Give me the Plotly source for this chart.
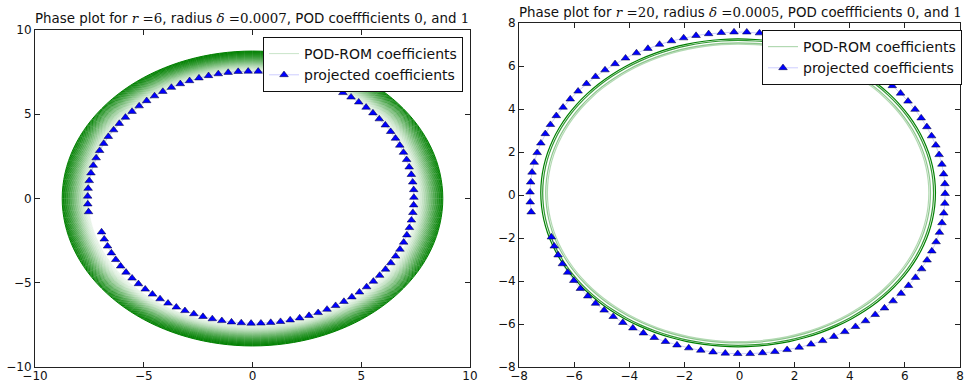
import numpy as np
import plotly.graph_objects as go

# ---------------- data ----------------
# projected coefficients: polar angle (deg) of each marker, shared by both panels
marker_angles_deg = [
    196, 199.5, 203, 206.5, 210, 213.5, 217, 220.5, 224, 227.5,
    231, 234.5, 238, 241.5, 245, 248.5, 252, 255.5, 259, 262.5,
    266, 269.5, 273, 276.5, 280, 283.5, 287, 290.5, 294, 297.5,
    301, 304.5, 308, 311.5, 315, 318.5, 322, 325.5, 329, 332.5,
    336, 339.5, 343, 346.5, 350, 353.5, 357, 360.5, 364, 367.5,
    371, 374.5, 378, 381.5, 385, 388.5, 392, 395.5, 399, 402.5,
    406, 409.5, 413, 416.5, 420, 423.5, 427, 430.5, 434, 437.5,
    441, 444.5, 448, 451.5, 455, 458.5, 462, 465.5, 469, 472.5,
    476, 479.5, 483, 486.5, 490, 493.5, 497, 500.5, 504, 507.5,
    511, 514.5, 518, 521.5, 525, 528.5, 532, 535.5, 539, 542.5,
    546,
]
left_marker_radius = [
    7.22, 7.23, 7.24, 7.25, 7.26, 7.27, 7.28, 7.28, 7.29, 7.30,
    7.31, 7.32, 7.33, 7.34, 7.35, 7.36, 7.37, 7.38, 7.39, 7.40,
    7.40, 7.41, 7.41, 7.41, 7.42, 7.42, 7.42, 7.42, 7.42, 7.42,
    7.42, 7.42, 7.42, 7.42, 7.42, 7.42, 7.42, 7.42, 7.42, 7.42,
    7.42, 7.42, 7.42, 7.42, 7.42, 7.42, 7.42, 7.42, 7.43, 7.43,
    7.44, 7.44, 7.45, 7.46, 7.47, 7.48, 7.49, 7.50, 7.50, 7.51,
    7.52, 7.52, 7.53, 7.53, 7.54, 7.54, 7.54, 7.55, 7.55, 7.55,
    7.55, 7.55, 7.55, 7.55, 7.56, 7.56, 7.56, 7.56, 7.56, 7.56,
    7.57, 7.57, 7.57, 7.57, 7.57, 7.57, 7.57, 7.57, 7.57, 7.57,
    7.58, 7.58, 7.58, 7.58, 7.58, 7.58, 7.58, 7.58, 7.58, 7.58,
    7.58,
]
right_marker_radius = [
    7.10, 7.13, 7.15, 7.18, 7.20, 7.21, 7.23, 7.24, 7.26, 7.27,
    7.28, 7.29, 7.30, 7.31, 7.32, 7.33, 7.34, 7.35, 7.36, 7.37,
    7.38, 7.38, 7.39, 7.39, 7.40, 7.40, 7.41, 7.41, 7.42, 7.42,
    7.42, 7.43, 7.43, 7.43, 7.44, 7.44, 7.44, 7.44, 7.45, 7.45,
    7.45, 7.45, 7.46, 7.46, 7.46, 7.46, 7.46, 7.46, 7.47, 7.47,
    7.48, 7.48, 7.49, 7.49, 7.50, 7.50, 7.51, 7.51, 7.52, 7.52,
    7.53, 7.53, 7.54, 7.54, 7.55, 7.55, 7.56, 7.56, 7.56, 7.57,
    7.57, 7.57, 7.58, 7.58, 7.58, 7.58, 7.58, 7.58, 7.58, 7.58,
    7.58, 7.59, 7.59, 7.59, 7.59, 7.59, 7.59, 7.59, 7.59, 7.59,
    7.60, 7.60, 7.60, 7.60, 7.60, 7.60, 7.60, 7.60, 7.60, 7.60,
    7.60,
]

# POD-ROM coefficients: one closed loop per revolution
loop_angles_deg = [
    0, 5, 10, 15, 20, 25, 30, 35, 40, 45, 50, 55, 60, 65, 70, 75, 80, 85,
    90, 95, 100, 105, 110, 115, 120, 125, 130, 135, 140, 145, 150, 155, 160, 165, 170, 175,
    180, 185, 190, 195, 200, 205, 210, 215, 220, 225, 230, 235, 240, 245, 250, 255, 260, 265,
    270, 275, 280, 285, 290, 295, 300, 305, 310, 315, 320, 325, 330, 335, 340, 345, 350, 355,
    360,
]
left_loop_radius = [
    7.55, 7.58, 7.61, 7.64, 7.67, 7.70, 7.73, 7.76, 7.79, 7.82,
    7.85, 7.88, 7.91, 7.94, 7.97, 8.00, 8.03, 8.06, 8.09, 8.12,
    8.15, 8.18, 8.21, 8.24, 8.27, 8.30, 8.33, 8.36, 8.39, 8.42,
    8.45, 8.48, 8.51, 8.54, 8.57, 8.60, 8.63, 8.66, 8.69, 8.72,
    8.75,
]
right_loop_radius = [6.92, 6.98, 7.09, 7.16]
right_loop_alpha = [0.3, 0.45, 0.8, 1.0]
right_loop_center = (-0.05, 0.1)

SERIF = 'font-family:DejaVu Serif'
left_title = (f'Phase plot for <span style="{SERIF}"><i>r</i> =6</span>, '
              f'radius <span style="{SERIF}"><i>δ</i> =0.0007</span>, '
              f'POD coeffficients <span style="{SERIF}">0</span>, and '
              f'<span style="{SERIF}">1</span>')
right_title = (f'Phase plot for <span style="{SERIF}"><i>r</i> =20</span>, '
               f'radius <span style="{SERIF}"><i>δ</i> =0.0005</span>, '
               f'POD coeffficients <span style="{SERIF}">0</span>, and '
               f'<span style="{SERIF}">1</span>')

# ---------------- figure ----------------
W, H = 964, 383
fig = go.Figure()

ang_loop = np.radians(loop_angles_deg)
ang_mk = np.radians(marker_angles_deg)

GREEN = "0,128,0"

# left panel loops (lighter inside, darker outside)
n = len(left_loop_radius)
legend_shown = False
for i, r in enumerate(left_loop_radius):
    t = i / (n - 1)
    a = 0.06 + 0.94 * t ** 1.6
    show = (not legend_shown) and a >= 0.2
    legend_shown = legend_shown or show
    fig.add_trace(go.Scatter(
        x=r * np.cos(ang_loop), y=r * np.sin(ang_loop), mode="lines",
        line=dict(color=f"rgba({GREEN},{a:.3f})", width=1, shape="spline", smoothing=1),
        name="POD-ROM coefficients", showlegend=show, legend="legend",
        legendrank=1, xaxis="x", yaxis="y", hoverinfo="skip"))
fig.add_trace(go.Scatter(
    x=np.array(left_marker_radius) * np.cos(ang_mk),
    y=np.array(left_marker_radius) * np.sin(ang_mk),
    mode="lines+markers", name="projected coefficients", legend="legend",
    legendrank=2,
    line=dict(color="rgba(0,0,255,0.2)", width=1),
    marker=dict(symbol="triangle-up", size=7.5, color="#0000ff",
                line=dict(color="#000033", width=0.5)),
    xaxis="x", yaxis="y"))

# right panel loops
for i, (r, a) in enumerate(zip(right_loop_radius, right_loop_alpha)):
    fig.add_trace(go.Scatter(
        x=right_loop_center[0] + r * np.cos(ang_loop),
        y=right_loop_center[1] + r * np.sin(ang_loop), mode="lines",
        line=dict(color=f"rgba({GREEN},{a:.3f})", width=1.2, shape="spline", smoothing=1),
        name="POD-ROM coefficients", showlegend=(i == 0), legend="legend2",
        xaxis="x2", yaxis="y2", hoverinfo="skip"))
fig.add_trace(go.Scatter(
    x=np.array(right_marker_radius) * np.cos(ang_mk),
    y=np.array(right_marker_radius) * np.sin(ang_mk),
    mode="lines+markers", name="projected coefficients", legend="legend2",
    line=dict(color="rgba(0,0,255,0.2)", width=1),
    marker=dict(symbol="triangle-up", size=7.5, color="#0000ff",
                line=dict(color="#000033", width=0.5)),
    xaxis="x2", yaxis="y2"))

def px_x(p):
    return p / W

def px_y(p):
    return (H - p) / H

axis_common = dict(showgrid=False, zeroline=False, showline=True, linecolor="#222",
                   linewidth=1, mirror="ticks", ticks="inside", ticklen=5,
                   tickcolor="#222", automargin=False,
                   tickfont=dict(family="DejaVu Sans", size=12, color="#111"))

legend_common = dict(xanchor="right", yanchor="top", bordercolor="#111", borderwidth=1,
                     bgcolor="white", font=dict(family="DejaVu Sans", size=14, color="#111"),
                     itemwidth=30, tracegroupgap=0)

fig.update_layout(
    width=W, height=H, margin=dict(l=0, r=0, t=0, b=0, autoexpand=False),
    paper_bgcolor="white", plot_bgcolor="white",
    font=dict(family="DejaVu Sans", size=12, color="#111"),
    xaxis=dict(domain=[px_x(35), px_x(470)], range=[-10, 10], tick0=-10, dtick=5,
               anchor="y", ticklabelstandoff=-2, **axis_common),
    yaxis=dict(domain=[px_y(367), px_y(30)], range=[-10, 10], tick0=-10, dtick=5,
               anchor="x", **axis_common),
    xaxis2=dict(domain=[px_x(519), px_x(960)], range=[-8, 8], tick0=-8, dtick=2,
                anchor="y2", ticklabelstandoff=-2, **axis_common),
    yaxis2=dict(domain=[px_y(367), px_y(23)], range=[-8, 8], tick0=-8, dtick=2,
                anchor="x2", **axis_common),
    legend=dict(x=px_x(463), y=px_y(37), **legend_common),
    legend2=dict(x=px_x(962), y=px_y(30), **legend_common),
    annotations=[
        dict(text=left_title, x=px_x(252), y=px_y(18), xref="paper", yref="paper",
             xanchor="center", yanchor="middle", showarrow=False,
             font=dict(family="DejaVu Sans", size=13.4, color="#111")),
        dict(text=right_title, x=px_x(740), y=px_y(12), xref="paper", yref="paper",
             xanchor="center", yanchor="middle", showarrow=False,
             font=dict(family="DejaVu Sans", size=13.4, color="#111")),
    ],
    showlegend=True,
)

fig.write_html("out.html")
